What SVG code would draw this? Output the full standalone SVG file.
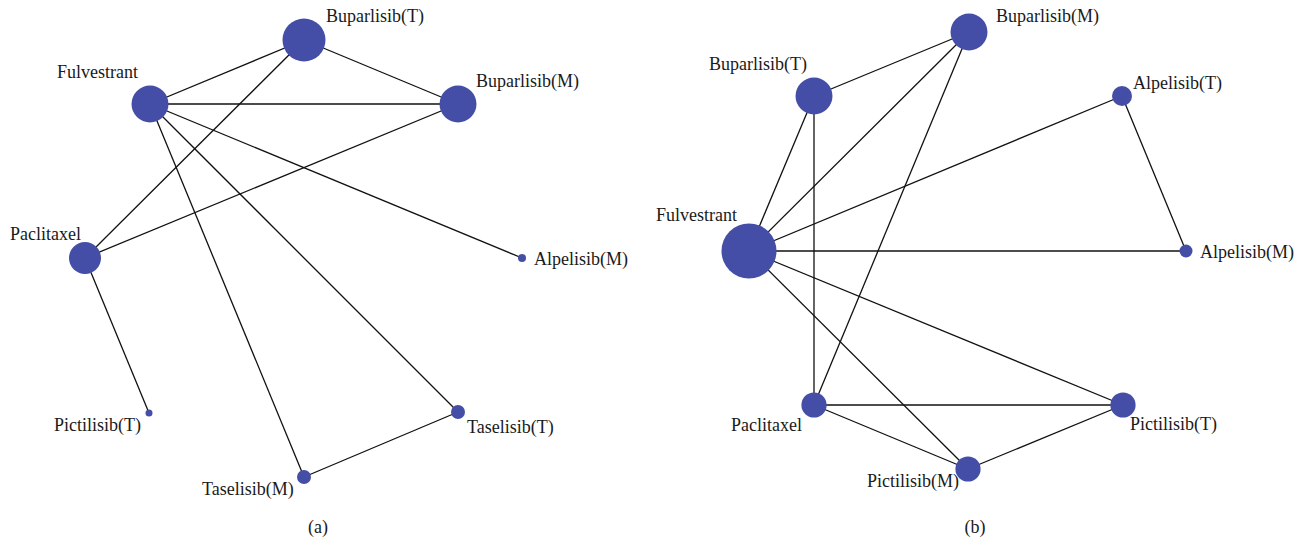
<svg xmlns="http://www.w3.org/2000/svg" width="1305" height="544" viewBox="0 0 1305 544">
<style>
.n{fill:#454ea6}
.e{stroke:#111;stroke-width:1.3;fill:none}
text{font-family:"Liberation Serif","Times New Roman",serif;font-size:18px;fill:#1a1a1a}
</style>
<rect width="1305" height="544" fill="#fff"/>
<g id="connectors-a">
<line class="e" x1="150" y1="104" x2="304" y2="40"/>
<line class="e" x1="150" y1="104" x2="458" y2="104" style="stroke-width:1.7"/>
<line class="e" x1="304" y1="40" x2="458" y2="104"/>
<line class="e" x1="304" y1="40" x2="85" y2="258"/>
<line class="e" x1="458" y1="104" x2="85" y2="258"/>
<line class="e" x1="150" y1="104" x2="522" y2="258"/>
<line class="e" x1="150" y1="104" x2="304" y2="477"/>
<line class="e" x1="150" y1="104" x2="458" y2="412"/>
<line class="e" x1="85" y1="258" x2="149" y2="413"/>
<line class="e" x1="304" y1="477" x2="458" y2="412"/>
</g>
<g id="a-buparlisib-t"><circle class="n" cx="304" cy="40" r="21.5"/><text x="326" y="22">Buparlisib(T)</text></g>
<g id="a-fulvestrant"><circle class="n" cx="150" cy="104" r="18.5"/><text x="57" y="78">Fulvestrant</text></g>
<g id="a-buparlisib-m"><circle class="n" cx="458" cy="104" r="18.5"/><text x="476" y="87">Buparlisib(M)</text></g>
<g id="a-paclitaxel"><circle class="n" cx="85" cy="258" r="16"/><text x="10" y="240">Paclitaxel</text></g>
<g id="a-alpelisib-m"><circle class="n" cx="522" cy="258" r="4"/><text x="534" y="265">Alpelisib(M)</text></g>
<g id="a-pictilisib-t"><circle class="n" cx="149" cy="413" r="3.5"/><text x="54" y="431">Pictilisib(T)</text></g>
<g id="a-taselisib-t"><circle class="n" cx="458" cy="412" r="7"/><text x="467" y="433">Taselisib(T)</text></g>
<g id="a-taselisib-m"><circle class="n" cx="304" cy="477" r="7"/><text x="202" y="495">Taselisib(M)</text></g>
<text x="318" y="533" text-anchor="middle">(a)</text>

<g id="connectors-b">
<line class="e" x1="969" y1="32" x2="814" y2="96"/>
<line class="e" x1="969" y1="32" x2="749" y2="251"/>
<line class="e" x1="969" y1="32" x2="814" y2="405"/>
<line class="e" x1="814" y1="96" x2="749" y2="251"/>
<line class="e" x1="814" y1="96" x2="814" y2="405"/>
<line class="e" x1="1122" y1="96" x2="749" y2="251"/>
<line class="e" x1="1122" y1="96" x2="1186" y2="251"/>
<line class="e" x1="749" y1="251" x2="1186" y2="251"/>
<line class="e" x1="749" y1="251" x2="1123" y2="405"/>
<line class="e" x1="749" y1="251" x2="968" y2="469"/>
<line class="e" x1="814" y1="405" x2="1123" y2="405"/>
<line class="e" x1="814" y1="405" x2="968" y2="469"/>
<line class="e" x1="968" y1="469" x2="1123" y2="405"/>
</g>
<g id="b-buparlisib-m"><circle class="n" cx="969" cy="32" r="18.5"/><text x="996" y="22">Buparlisib(M)</text></g>
<g id="b-buparlisib-t"><circle class="n" cx="814" cy="96" r="18.5"/><text x="709" y="70">Buparlisib(T)</text></g>
<g id="b-alpelisib-t"><circle class="n" cx="1122" cy="96" r="10"/><text x="1133" y="89">Alpelisib(T)</text></g>
<g id="b-fulvestrant"><circle class="n" cx="749" cy="251" r="27.5"/><text x="656" y="221">Fulvestrant</text></g>
<g id="b-alpelisib-m"><circle class="n" cx="1186" cy="251" r="6.5"/><text x="1200" y="258">Alpelisib(M)</text></g>
<g id="b-paclitaxel"><circle class="n" cx="814" cy="405" r="12.6"/><text x="731" y="431">Paclitaxel</text></g>
<g id="b-pictilisib-t"><circle class="n" cx="1123" cy="405" r="12.6"/><text x="1130" y="430">Pictilisib(T)</text></g>
<g id="b-pictilisib-m"><circle class="n" cx="968" cy="469" r="12.6"/><text x="867" y="487">Pictilisib(M)</text></g>
<text x="975" y="533" text-anchor="middle">(b)</text>
</svg>
